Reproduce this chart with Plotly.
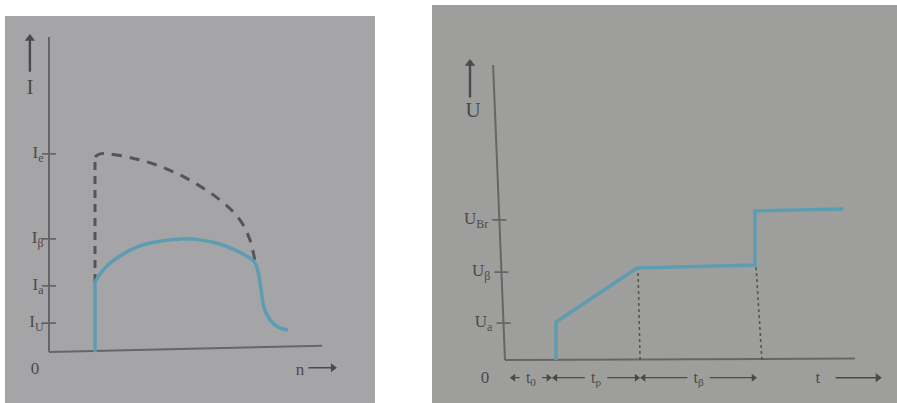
import plotly.graph_objects as go

# ---------------- Left panel: current I versus speed n ----------------
n_rise = [1.685, 1.685]
I_rise = [0.0, 2.22]
n_solid = [1.685, 2.05, 2.60, 3.33, 4.07, 4.80, 5.53, 6.26, 6.81, 7.36, 7.55, 7.66, 7.77, 7.88, 8.10, 8.39, 8.75]
I_solid = [2.22, 2.67, 3.05, 3.37, 3.52, 3.59, 3.56, 3.43, 3.24, 2.98, 2.83, 2.54, 1.97, 1.40, 1.02, 0.79, 0.70]
n_dash_v = [1.685, 1.685]
I_dash_v = [2.22, 6.19]
n_dash = [1.685, 1.87, 3.33, 4.80, 6.26, 7.00, 7.36, 7.55]
I_dash = [6.19, 6.29, 6.10, 5.62, 4.83, 4.19, 3.56, 2.86]
I_tick_vals = [6.29, 3.59, 2.10, 0.92]
I_tick_text = ["I<sub>e</sub>", "I<sub>β</sub>", "I<sub>a</sub>", "I<sub>U</sub>"]

# ---------------- Right panel: voltage U versus time t ----------------
t_line = [1.46, 1.46, 3.77, 7.14, 7.14, 9.66]
U_line = [0.0, 1.29, 3.12, 3.22, 5.05, 5.12]
t_dot_top = [3.80, 7.17]
t_dot_bottom = [3.86, 7.34]
U_dot_top = [3.12, 3.22]
U_tick_vals = [4.75, 2.98, 1.25]
U_tick_text = ["U<sub>Br</sub>", "U<sub>β</sub>", "U<sub>a</sub>"]
interval_edges = [0.14, 1.34, 3.86, 7.20]
interval_text = ["t<sub>0</sub>", "t<sub>p</sub>", "t<sub>β</sub>"]

W, H = 897, 403
BLUE = "#5c9db2"
INK = "#4a4a4a"
AX = "#666666"
FONT = "Liberation Serif"

# pixel geometry of the two photographed panels
L_X0, L_PX = 49, 27.3     # left: pixel of n=0, px per unit
L_Y0, L_PY = 352, 31.5    # left: pixel of I=0, px per unit
R_X0, R_PX = 505, 35.0
R_Y0, R_PY = 360, 29.5
L_xr, L_yr = [-1.79, 11.2], [-1.5, 11.17]
R_xr, R_yr = [-1.7, 11.2], [-1.3, 11.5]


def dom_x(x0, px, r):
    return [(x0 + r[0] * px) / W, (x0 + r[1] * px) / W]


def dom_y(y0, py, r):
    return [1 - (y0 - r[0] * py) / H, 1 - (y0 - r[1] * py) / H]


fig = go.Figure()


def line(xs, ys, xa, ya, color=AX, width=2, dash=None, shape="linear"):
    fig.add_trace(go.Scatter(x=xs, y=ys, mode="lines", xaxis=xa, yaxis=ya, hoverinfo="skip",
                             line=dict(color=color, width=width, dash=dash, shape=shape)))


def arrow(x0, y0, x1, y1, xa, ya, symbol, width=1.5, size=8):
    line([x0, x1], [y0, y1], xa, ya, color=INK, width=width)
    fig.add_trace(go.Scatter(x=[x1], y=[y1], mode="markers", xaxis=xa, yaxis=ya, hoverinfo="skip",
                             marker=dict(symbol=symbol, size=size, color=INK, line=dict(width=0))))


def label(xs, ys, txts, xa, ya, size=17, pos="middle center"):
    fig.add_trace(go.Scatter(x=xs, y=ys, text=txts, mode="text", xaxis=xa, yaxis=ya,
                             hoverinfo="skip", textposition=pos, cliponaxis=False,
                             textfont=dict(family=FONT, size=size, color=INK)))


# --- left panel ---
line([0, 0], [0, 10], "x", "y")
line([0, 10], [0, 0.2], "x", "y")
fig.add_trace(go.Scatter(x=[0] * len(I_tick_vals), y=I_tick_vals, mode="markers",
                         marker=dict(symbol="line-ew", size=10, line=dict(color=AX, width=1.8)),
                         xaxis="x", yaxis="y", hoverinfo="skip"))
line(n_dash_v, I_dash_v, "x", "y", color="#555555", width=3, dash="8px,6px")
line(n_dash, I_dash, "x", "y", color="#555555", width=3, dash="10px,8px", shape="spline")
line(n_rise, I_rise, "x", "y", color=BLUE, width=3.5)
line(n_solid, I_solid, "x", "y", color=BLUE, width=3.5, shape="spline")

# --- right panel ---
slope = -0.034  # slant of the photographed vertical axis (t per U)
line([0, slope * 10], [0, 10], "x2", "y2")
line([0, 10.0], [0, 0.05], "x2", "y2")
fig.add_trace(go.Scatter(x=[slope * u for u in U_tick_vals], y=U_tick_vals, mode="markers",
                         marker=dict(symbol="line-ew", size=10, line=dict(color=AX, width=1.8)),
                         xaxis="x2", yaxis="y2", hoverinfo="skip"))
for tb, tt, ut in zip(t_dot_bottom, t_dot_top, U_dot_top):
    line([tb, tt], [0, ut], "x2", "y2", color="#555555", width=1.6, dash="3px,3px")
line(t_line, U_line, "x2", "y2", color=BLUE, width=3.5)

# tick labels
label([-0.2] * len(I_tick_vals), I_tick_vals, I_tick_text, "x", "y", pos="middle left")
label([slope * v - 0.32 for v in U_tick_vals], U_tick_vals, U_tick_text, "x2", "y2",
      pos="middle left")

# left axis names
arrow(-0.70, 8.9, -0.70, 9.95, "x", "y", "triangle-up", width=2.4, size=9)
label([-0.70], [8.35], ["I"], "x", "y", size=21)
label([-0.51, 9.19], [-0.55, -0.58], ["0", "n"], "x", "y")
arrow(9.5, -0.5, 10.4, -0.5, "x", "y", "triangle-right", width=1.6, size=8)

# right axis names
arrow(-1.0, 8.9, -1.0, 10.05, "x2", "y2", "triangle-up", width=2.4, size=9)
label([-0.91], [8.4], ["U"], "x2", "y2", size=21)
label([-0.57, 8.94], [-0.62, -0.62], ["0", "t"], "x2", "y2")
arrow(9.45, -0.6, 10.65, -0.6, "x2", "y2", "triangle-right", width=1.6, size=8)

centers = []
for i in range(len(interval_text)):
    a, b = interval_edges[i], interval_edges[i + 1]
    c = (a + b) / 2
    centers.append(c)
    gap = 0.32
    arrow(c - gap, -0.6, a + 0.1, -0.6, "x2", "y2", "triangle-left", width=1.3, size=7)
    arrow(c + gap, -0.6, b - 0.1, -0.6, "x2", "y2", "triangle-right", width=1.3, size=7)
label(centers, [-0.64] * len(centers), interval_text, "x2", "y2", size=16)

shapes = [
    dict(type="rect", xref="paper", yref="paper", x0=5 / W, x1=375 / W, y0=0, y1=1 - 16 / H,
         fillcolor="#a5a4a7", line=dict(width=0), layer="below"),
    dict(type="rect", xref="paper", yref="paper", x0=432 / W, x1=1, y0=0, y1=1 - 5 / H,
         fillcolor="#9e9f9d", line=dict(width=0), layer="below"),
]

hidden = dict(showgrid=False, zeroline=False, showline=False, showticklabels=False, ticks="",
              fixedrange=True)
fig.update_layout(
    width=W, height=H, margin=dict(l=0, r=0, t=0, b=0),
    paper_bgcolor="white", plot_bgcolor="rgba(0,0,0,0)", showlegend=False,
    xaxis=dict(domain=dom_x(L_X0, L_PX, L_xr), range=L_xr, anchor="y", **hidden),
    yaxis=dict(domain=dom_y(L_Y0, L_PY, L_yr), range=L_yr, anchor="x", **hidden),
    xaxis2=dict(domain=dom_x(R_X0, R_PX, R_xr), range=R_xr, anchor="y2", **hidden),
    yaxis2=dict(domain=dom_y(R_Y0, R_PY, R_yr), range=R_yr, anchor="x2", **hidden),
    shapes=shapes,
)

fig.write_html("out.html")
